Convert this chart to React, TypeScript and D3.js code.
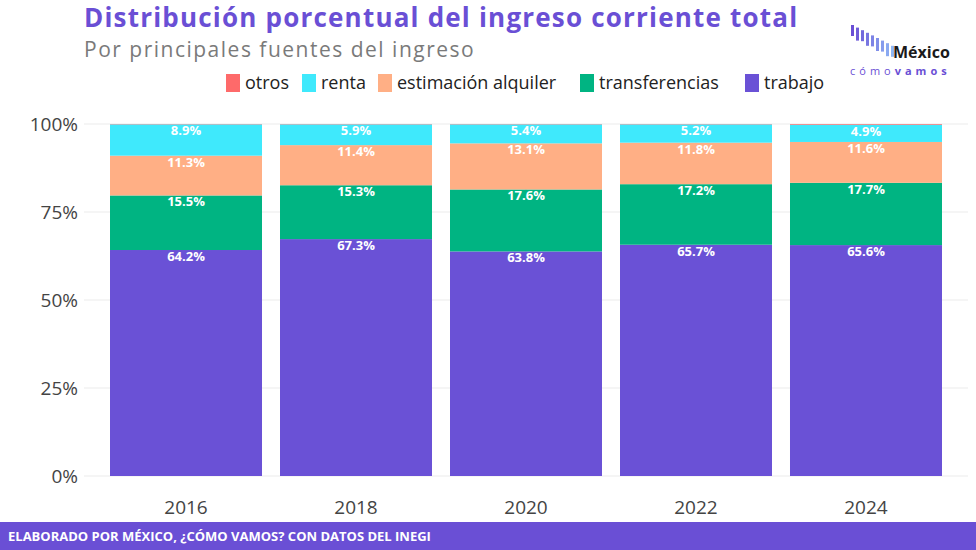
import React from 'react';
import * as d3 from 'd3';

const years = ['2016', '2018', '2020', '2022', '2024'];
const trabajo = [64.2, 67.3, 63.8, 65.7, 65.6];
const transferencias = [15.5, 15.3, 17.6, 17.2, 17.7];
const alquiler = [11.3, 11.4, 13.1, 11.8, 11.6];
const renta = [8.9, 5.9, 5.4, 5.2, 4.9];
const otros = [0.1, 0.1, 0.1, 0.1, 0.2];
const yTicks = [0, 25, 50, 75, 100];

const seriesKeys = ['trabajo', 'transferencias', 'estimación alquiler', 'renta', 'otros'];
const seriesValues = [trabajo, transferencias, alquiler, renta, otros];
const legendOrder = ['otros', 'renta', 'estimación alquiler', 'transferencias', 'trabajo'];
const colors: Record<string, string> = {
  otros: '#fe6a6a',
  renta: '#3fe9fc',
  'estimación alquiler': '#ffaf85',
  transferencias: '#00b482',
  trabajo: '#6a51d6',
};

const W = 976;
const H = 550;
const font = '"Open Sans", Lato, sans-serif';
const purple = '#6a4fd5';

export default function App() {
  const rows = years.map((y, i) => {
    const r: any = { year: y };
    seriesKeys.forEach((k, j) => (r[k] = seriesValues[j][i]));
    return r;
  });
  const stack = d3.stack<any>().keys(seriesKeys)(rows);

  const x = d3.scaleBand().domain(years).range([84, 968]).paddingInner(0.1059).paddingOuter(0.153);
  const y = d3.scaleLinear().domain([0, 100]).range([476, 124]);

  // legend layout
  const legendX = [226, 302, 378, 580, 745];

  // logo bars
  const logoBars = d3.range(9);
  const barColor = d3.scaleLinear<string>().domain([0, 8]).range(['#6a4fd5', '#8fb6f5']);

  return (
    <svg width={W} height={H} style={{ position: 'absolute', left: 0, top: 0 }}>
      <rect width={W} height={H} fill="#fff" />
      <text x={84} y={27} fontFamily={font} fontWeight={700} fontSize={26} letterSpacing={1.2} fill={purple}>
        Distribución porcentual del ingreso corriente total
      </text>
      <text x={84} y={57} fontFamily={font} fontSize={21} letterSpacing={1.5} fill="#7a7a7a">
        Por principales fuentes del ingreso
      </text>

      {legendOrder.map((k, i) => (
        <g key={k} transform={`translate(${legendX[i]},74)`}>
          <rect width={14} height={18} fill={colors[k]} />
          <text x={19} y={15} fontFamily={font} fontSize={18} fill="#222">
            {k}
          </text>
        </g>
      ))}

      {/* grid */}
      {yTicks.map((t) => (
        <line key={t} x1={84} x2={968} y1={y(t)} y2={y(t)} stroke="#ebebeb" />
      ))}
      {years.map((yr) => (
        <line
          key={yr}
          x1={x(yr)! + x.bandwidth() / 2}
          x2={x(yr)! + x.bandwidth() / 2}
          y1={y(0)}
          y2={y(100)}
          stroke="#ebebeb"
        />
      ))}

      {/* bars */}
      {stack.map((s) =>
        s.map((d, i) => (
          <rect
            key={s.key + i}
            x={x(years[i])}
            width={x.bandwidth()}
            y={y(d[1])}
            height={y(d[0]) - y(d[1])}
            fill={colors[s.key]}
          />
        ))
      )}
      {stack
        .filter((s) => s.key !== 'otros')
        .map((s) =>
          s.map((d, i) => (
            <text
              key={'l' + s.key + i}
              x={x(years[i])! + x.bandwidth() / 2}
              y={y(d[1]) + 11}
              textAnchor="middle"
              fontFamily={font}
              fontWeight={700}
              fontSize={13}
              fill="#fff"
            >
              {d3.format('.1f')(d[1] - d[0])}%
            </text>
          ))
        )}

      {/* axes */}
      {yTicks.map((t) => (
        <text key={'y' + t} x={78} y={y(t) + 7} textAnchor="end" fontFamily={font} fontSize={19} fill="#444">
          {t}%
        </text>
      ))}
      {years.map((yr) => (
        <text
          key={'x' + yr}
          x={x(yr)! + x.bandwidth() / 2}
          y={514}
          textAnchor="middle"
          fontFamily={font}
          fontSize={19}
          fill="#444"
        >
          {yr}
        </text>
      ))}

      {/* logo */}
      {logoBars.map((i) => (
        <rect
          key={'lb' + i}
          x={851 + i * 5}
          y={25 + i * 2.6}
          width={3}
          height={11 + (i % 2) * 2}
          fill={barColor(i)}
        />
      ))}
      <text x={893} y={58} fontFamily={font} fontWeight={700} fontSize={16} fill="#1a1a1a">
        México
      </text>
      <text x={850} y={75} fontFamily={font} fontSize={11} fill={purple} letterSpacing={4}>
        cómo
        <tspan fontWeight={700}>vamos</tspan>
      </text>

      {/* footer */}
      <rect x={0} y={522} width={W} height={28} fill={purple} />
      <text x={8} y={541} fontFamily={font} fontWeight={700} fontSize={13} fill="#fff">
        ELABORADO POR MÉXICO, ¿CÓMO VAMOS? CON DATOS DEL INEGI
      </text>
    </svg>
  );
}
